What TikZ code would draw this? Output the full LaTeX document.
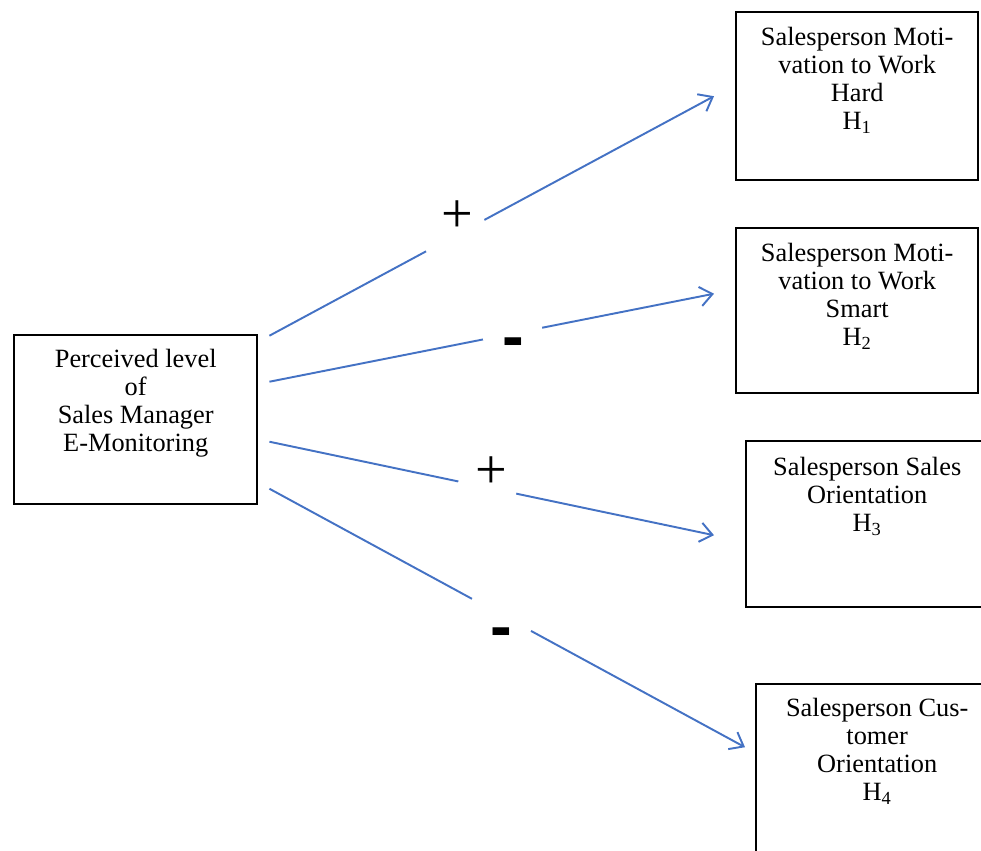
\documentclass[tikz,border=0pt]{standalone}
\usepackage{fontspec}
\setmainfont{Liberation Serif}
\newfontfamily\signfont{Liberation Sans}
\usetikzlibrary{positioning,calc,arrows.meta}

\definecolor{linkblue}{RGB}{68,114,196}

\begin{document}
\begin{tikzpicture}[x=0.02cm, y=-0.02cm, font=\fontsize{15}{16}\selectfont,
  box/.style={draw, line width=1.4pt, rectangle, minimum width=4.84cm, minimum height=3.36cm, inner sep=0pt, anchor=north west},
  boxtext/.style={align=center, inner sep=0pt},
  link/.style={draw=linkblue, line width=1.1pt, -{Straight Barb[length=7pt, width=11pt]}},
  gap/.style={fill=white, sloped, minimum height=6pt, inner sep=0pt},
  plussign/.style={inner sep=0pt, font=\fontsize{32}{32}\selectfont},
  minussign/.style={inner sep=0pt, font=\signfont\bfseries\fontsize{37}{37}\selectfont}]
\useasboundingbox (0,0) rectangle (981,850);
\clip (0,0) rectangle (981,850);

% Predictor block
\node[box, minimum width=4.86cm, minimum height=3.38cm] (emon) at (13,334) {};
\node[boxtext, below=0.30cm of emon.north] (emontxt) {Perceived level\\of\\Sales Manager\\E-Monitoring};

% Outcome blocks
\node[box] (hard) at (735,11) {};
\node[boxtext, below=0.32cm of hard.north] (hardtxt) {Salesperson Moti-\\vation to Work\\Hard\\H\textsubscript{1}};

\node[box, minimum height=3.30cm] (smart) at (735,227) {};
\node[boxtext, below=0.32cm of smart.north] (smarttxt) {Salesperson Moti-\\vation to Work\\Smart\\H\textsubscript{2}};

\node[box, minimum height=3.32cm] (sales) at (745,440) {};
\node[boxtext, below=0.34cm of sales.north] (salestxt) {Salesperson Sales\\Orientation\\H\textsubscript{3}};

\node[box] (cust) at (755,683) {};
\node[boxtext, below=0.30cm of cust.north] (custtxt) {Salesperson Cus-\\tomer\\Orientation\\H\textsubscript{4}};

% Link ends
\coordinate (out1) at ($(emon.east)+(11,-84)$);
\coordinate (out2) at ($(emon.east)+(11,-38)$);
\coordinate (out3) at ($(emon.east)+(11,22)$);
\coordinate (out4) at ($(emon.east)+(11,69)$);
\coordinate (in1) at ($(hard.west)+(-21,0)$);
\coordinate (in2) at ($(smart.west)+(-21,-17)$);
\coordinate (in3) at ($(sales.west)+(-31,11)$);
\coordinate (in4) at ($(cust.west)+(-10,-21)$);

% Links, each broken where its sign sits
\draw[link] (out1) -- node[gap, pos=0.418, minimum width=1.32cm] (g1) {} (in1);
\draw[link] (out2) -- node[gap, pos=0.547, minimum width=1.20cm] (g2) {} (in2);
\draw[link] (out3) -- node[gap, pos=0.490, minimum width=1.18cm] (g3) {} (in3);
\draw[link] (out4) -- node[gap, pos=0.488, minimum width=1.34cm] (g4) {} (in4);

% Signs
\node[plussign] (s1) at (457,217) {+};
\node[minussign] (s2) at (513,348) {-};
\node[plussign] (s3) at (491,473) {+};
\node[minussign] (s4) at (501,638) {-};

\end{tikzpicture}
\end{document}
